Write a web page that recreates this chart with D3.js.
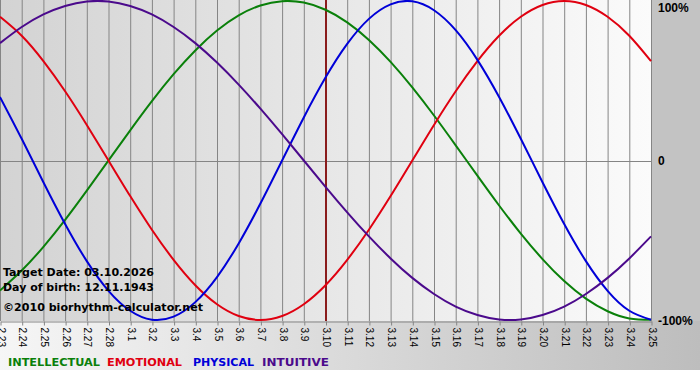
<!DOCTYPE html>
<html>
<head>
<meta charset="utf-8">
<script src="https://cdn.jsdelivr.net/npm/d3@7"></script>
<style>
  html, body { margin: 0; padding: 0; background: #fff; }
  svg { display: block; font-family: "DejaVu Sans", Verdana, sans-serif; }
</style>
</head>
<body>
<div id="chart"></div>
<script>
// day labels (month.day)
const days = ["2.23","2.24","2.25","2.26","2.27","2.28","3.1","3.2","3.3","3.4","3.5","3.6","3.7","3.8","3.9","3.10",
  "3.11","3.12","3.13","3.14","3.15","3.16","3.17","3.18","3.19","3.20","3.21","3.22","3.23","3.24","3.25"];
const targetDay = "3.10";

// values per day, -1..1
const intellectual = [-0.815,-0.690,-0.541,-0.372,-0.189,0,0.189,0.372,0.541,0.690,0.815,0.910,0.972,0.999,0.990,0.945,
  0.866,0.756,0.618,0.458,0.282,0.095,-0.095,-0.282,-0.458,-0.618,-0.756,-0.866,-0.945,-0.990,-0.999];
const emotional = [0.901,0.782,0.623,0.434,0.223,0,-0.223,-0.434,-0.623,-0.782,-0.901,-0.975,-1.000,-0.975,-0.901,-0.782,
  -0.623,-0.434,-0.223,0,0.223,0.434,0.623,0.782,0.901,0.975,1.000,0.975,0.901,0.782,0.623];
const physical = [0.398,0.136,-0.136,-0.398,-0.631,-0.817,-0.942,-0.998,-0.979,-0.888,-0.731,-0.520,-0.270,0,0.270,0.520,
  0.731,0.888,0.979,0.998,0.942,0.817,0.631,0.398,0.136,-0.136,-0.398,-0.631,-0.817,-0.942,-0.998];
const intuitive = [0.736,0.837,0.916,0.969,0.997,0.997,0.969,0.916,0.837,0.736,0.614,0.476,0.325,0.165,0,-0.165,
  -0.325,-0.476,-0.614,-0.736,-0.837,-0.916,-0.969,-0.997,-0.997,-0.969,-0.916,-0.837,-0.736,-0.614,-0.476];

const seriesNames = ["INTELLECTUAL","EMOTIONAL","PHYSICAL","INTUITIVE"];
const seriesColors = ["#0a800a","#e00010","#0000d8","#4b0a8c"];
const infoLines = ["Target Date: 03.10.2026","Day of birth: 12.11.1943","\u00a92010 biorhythm-calculator.net"];

const width = 700, height = 380;
const plotW = 651, plotH = 321;

const svg = d3.select("#chart").append("svg")
  .attr("width", width)
  .attr("height", height);

const defs = svg.append("defs");
const gPlot = defs.append("linearGradient").attr("id", "bgPlot");
gPlot.append("stop").attr("offset", "0%").attr("stop-color", "#d3d3d3");
gPlot.append("stop").attr("offset", "100%").attr("stop-color", "#fbfbfb");
const gBot = defs.append("linearGradient").attr("id", "bgBot");
gBot.append("stop").attr("offset", "0%").attr("stop-color", "#f6f6f6");
gBot.append("stop").attr("offset", "100%").attr("stop-color", "#bdbdbd");
defs.append("clipPath").attr("id", "clip")
  .append("rect").attr("x", 0).attr("y", 0).attr("width", plotW + 1).attr("height", plotH + 1);

// backgrounds
svg.append("rect").attr("x", 0).attr("y", plotH).attr("width", width).attr("height", 370 - plotH).attr("fill", "url(#bgBot)");
svg.append("rect").attr("x", plotW).attr("y", 0).attr("width", width - plotW).attr("height", plotH).attr("fill", "#c3c3c3");
svg.append("rect").attr("x", 0).attr("y", 0).attr("width", plotW).attr("height", plotH).attr("fill", "url(#bgPlot)");

const x = d3.scalePoint().domain(days).range([0, plotW]);
const y = d3.scaleLinear().domain([-1, 1]).range([plotH - 1, 1]);

// vertical grid
svg.append("g")
  .selectAll("line")
  .data(days)
  .join("line")
  .attr("x1", d => x(d) + 0.5).attr("x2", d => x(d) + 0.5)
  .attr("y1", 0).attr("y2", plotH)
  .attr("stroke", "#858585");

// zero line
svg.append("line")
  .attr("x1", 0).attr("x2", plotW)
  .attr("y1", Math.round(y(0)) + 0.5).attr("y2", Math.round(y(0)) + 0.5)
  .attr("stroke", "#858585");

// bottom axis
const xAxis = svg.append("g")
  .attr("transform", `translate(0.5,${plotH + 0.5})`)
  .call(d3.axisBottom(x).tickSize(4).tickSizeOuter(0));
xAxis.select(".domain").attr("stroke", "#858585");
xAxis.selectAll(".tick line").attr("stroke", "#858585");
xAxis.selectAll(".tick text")
  .attr("font-size", 10)
  .attr("fill", "#000")
  .attr("transform", "rotate(90)")
  .attr("x", 6).attr("y", 0).attr("dy", "0.35em")
  .attr("text-anchor", "start");

// right axis
const yAxis = svg.append("g")
  .attr("transform", `translate(${plotW + 7},0)`)
  .call(d3.axisRight(y).tickValues([-1, 0, 1]).tickSize(0)
    .tickFormat(d => d === 0 ? "0" : d3.format(".0%")(d).replace("\u2212", "-")));
yAxis.select(".domain").remove();
yAxis.selectAll(".tick text")
  .attr("font-size", 12).attr("font-weight", "bold").attr("fill", "#000").attr("x", 0)
  .attr("dy", d => d === 1 ? "0.85em" : "0.35em");

// target date line
svg.append("line")
  .attr("x1", x(targetDay) + 0.5).attr("x2", x(targetDay) + 0.5)
  .attr("y1", 0).attr("y2", plotH)
  .attr("stroke", "#8a1c1c").attr("stroke-width", 2);

// curves
const line = d3.line()
  .x((d, i) => x(days[i]))
  .y(d => y(d))
  .curve(d3.curveNatural);

const seriesData = [intellectual, emotional, physical, intuitive];
svg.append("g").attr("clip-path", "url(#clip)")
  .selectAll("path")
  .data(seriesData)
  .join("path")
  .attr("d", line)
  .attr("fill", "none")
  .attr("stroke", (d, i) => seriesColors[i])
  .attr("stroke-width", 2);

// info text
const infoY = [272, 287, 307];
const infoW = [151, 151, 200];
svg.append("g")
  .selectAll("text")
  .data(infoLines)
  .join("text")
  .attr("x", 3)
  .attr("y", (d, i) => infoY[i])
  .attr("dy", "0.35em")
  .attr("font-size", 11)
  .attr("font-weight", "bold")
  .attr("fill", "#000")
  .attr("textLength", (d, i) => infoW[i])
  .attr("lengthAdjust", "spacingAndGlyphs")
  .text(d => d);

// legend
const legendX = [8, 107, 193, 262];
const legendW = [92, 75, 61, 67];
svg.append("g")
  .selectAll("text")
  .data(seriesNames)
  .join("text")
  .attr("x", (d, i) => legendX[i])
  .attr("y", 362)
  .attr("dy", "0.35em")
  .attr("font-size", 11)
  .attr("font-weight", "bold")
  .attr("fill", (d, i) => seriesColors[i])
  .attr("textLength", (d, i) => legendW[i])
  .attr("lengthAdjust", "spacingAndGlyphs")
  .text(d => d);
</script>
</body>
</html>
